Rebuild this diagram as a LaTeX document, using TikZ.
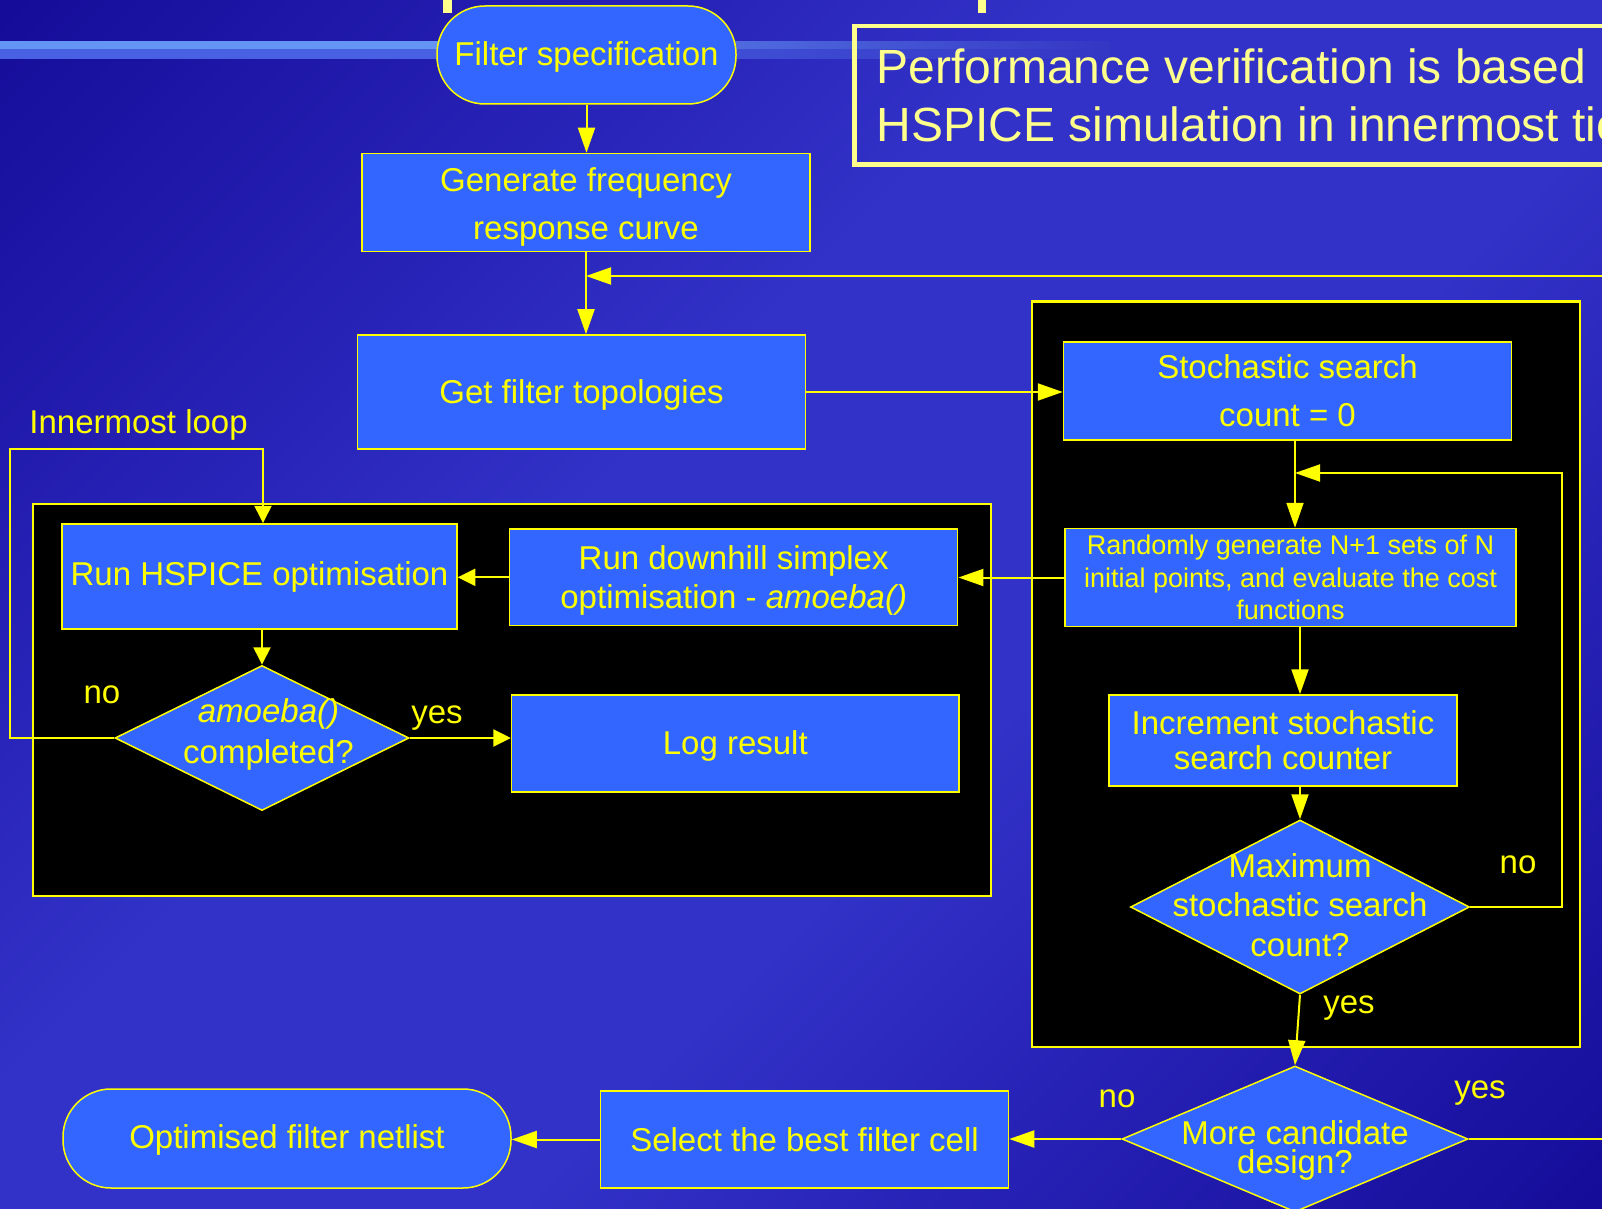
\documentclass[tikz,border=0pt]{standalone}
\usepackage{fontspec}
\setmainfont{Liberation Sans}
\usetikzlibrary{shapes.geometric,arrows.meta}
\definecolor{bgdark}{RGB}{20,12,152}
\definecolor{bgdk2}{RGB}{38,32,180}
\definecolor{bgmid}{RGB}{50,50,200}
\definecolor{nodeblue}{RGB}{51,102,255}
\definecolor{ylw}{RGB}{255,255,0}
\definecolor{ltylw}{RGB}{255,255,140}
\definecolor{barA}{RGB}{100,148,244}
\definecolor{barB}{RGB}{72,96,226}
\definecolor{barEnd}{RGB}{52,54,196}
\pgfdeclarehorizontalshading{bgshade}{100bp}{color(0bp)=(bgdark); color(14bp)=(bgdark); color(30bp)=(bgdk2); color(42bp)=(bgmid); color(58bp)=(bgmid); color(70bp)=(bgdk2); color(86bp)=(bgdark); color(100bp)=(bgdark)}
\pgfdeclarehorizontalshading{barup}{100bp}{color(0bp)=(barA); color(45bp)=(barA); color(75bp)=(barEnd); color(100bp)=(barEnd)}
\pgfdeclarehorizontalshading{barlow}{100bp}{color(0bp)=(barB); color(45bp)=(barB); color(75bp)=(barEnd); color(100bp)=(barEnd)}
\tikzset{
  box/.style={draw=ylw, fill=nodeblue, line width=0.75pt, text=ylw, inner sep=0pt, align=center, font=\fontsize{16.5pt}{19.8pt}\selectfont},
  dia/.style={diamond, draw=ylw, fill=nodeblue, line width=0.75pt, inner sep=0pt},
  dtext/.style={text=ylw, inner sep=0pt, align=center},
  lbl/.style={text=ylw, inner sep=0pt, anchor=base, font=\fontsize{16.5pt}{19.8pt}\selectfont},
  conn/.style={draw=ylw, line width=1pt},
  arr/.style={conn, -{Triangle[length=12.5pt,width=8.5pt]}},
  arrs/.style={conn, -{Triangle[length=8.75pt,width=8.5pt]}},
  group/.style={draw=ylw, line width=1.25pt, fill=black}
}
\begin{document}
\begin{tikzpicture}[x=0.5pt,y=-0.5pt]
\useasboundingbox (0,0) rectangle (1602,1209);
\clip (0,0) rectangle (1602,1209);
% background
\shade[shading=bgshade, shading angle=-45] (0,0) rectangle (1602,1209);
% decorative bar and title remnants
\shade[shading=barup] (0,42) rectangle (1110,50);
\shade[shading=barlow] (0,50) rectangle (1110,59);
\fill[ltylw] (443,0) rectangle (452,13);
\fill[ltylw] (978,0) rectangle (986,13);
% note box
\draw[ltylw, line width=2.3pt] (854.5,26) rectangle (1660,164.4);
\node[anchor=west, inner sep=0pt, align=left, text=ltylw, font=\fontsize{24pt}{28.85pt}\selectfont] (perftext) at (876,95.3) {Performance verification is based\\HSPICE simulation in innermost tier};
% group boxes
\draw[group] (33,504) rectangle (991,896);
\draw[group] (1032,301.7) rectangle (1580,1047);
% nodes
\node[box, rounded corners=24pt, minimum width=149.5pt, minimum height=49pt] (spec) at (586.5,55) {\rule{0pt}{14pt}Filter specification};
\node[box, minimum width=224pt, minimum height=49pt, font=\fontsize{16.5pt}{24pt}\selectfont] (gen) at (586,202.5) {\rule{0pt}{16pt}Generate frequency\\response curve};
\node[box, minimum width=224pt, minimum height=57pt] (topo) at (581.5,392) {\rule{0pt}{15pt}Get filter topologies};
\node[box, minimum width=224pt, minimum height=49pt, font=\fontsize{16.5pt}{24pt}\selectfont] (stoch) at (1287.5,391) {Stochastic search\\count = 0};
\node[box, minimum width=225.5pt, minimum height=49pt, font=\fontsize{13.5pt}{16.25pt}\selectfont] (rand) at (1290.5,577.5) {Randomly generate N+1 sets of N\\initial points, and evaluate the cost\\functions};
\node[box, minimum width=174pt, minimum height=45.5pt, font=\fontsize{16.5pt}{17.5pt}\selectfont] (incr) at (1283,740.5) {Increment stochastic\\search counter};
\node[dia, minimum width=169.5pt, minimum height=87pt] (maxd) at (1300,907) {};
\node[dtext, font=\fontsize{16.5pt}{19.75pt}\selectfont] (maxdt) at (1300,905) {Maximum\\stochastic search\\count?};
\node[dia, minimum width=173pt, minimum height=73pt] (mored) at (1295,1139) {};
\node[dtext, font=\fontsize{16.5pt}{14.5pt}\selectfont] (moredt) at (1295,1150.7) {More candidate\\design?};
\node[box, minimum width=204pt, minimum height=48.5pt] (sel) at (804.5,1139.5) {Select the best filter cell};
\node[box, rounded corners=24pt, minimum width=224pt, minimum height=49.5pt] (opt) at (287,1138.5) {\rule{0pt}{13pt}Optimised filter netlist};
\node[box, minimum width=197.5pt, minimum height=52.5pt] (hsp) at (259.5,576.5) {Run HSPICE optimisation};
\node[box, minimum width=224pt, minimum height=48.25pt, font=\fontsize{16.5pt}{19.5pt}\selectfont] (down) at (733.7,577.3) {\rule{0pt}{15pt}Run downhill simplex\\optimisation - \textit{amoeba()}};
\node[dia, minimum width=147pt, minimum height=72.5pt] (amd) at (262,738) {};
\node[dtext, font=\fontsize{16.5pt}{20.15pt}\selectfont] (amdt) at (268.5,734.4) {\textit{amoeba()}\\completed?};
\node[box, minimum width=223.75pt, minimum height=48.5pt] (log) at (735.3,743.5) {\rule{0pt}{14pt}Log result};
% labels
\node[lbl, anchor=base west] (innerlbl) at (29,433) {Innermost loop};
\node[lbl] (no1) at (102,703) {no};
\node[lbl] (yes1) at (437,723) {yes};
\node[lbl] (no2) at (1518,873) {no};
\node[lbl] (yes2) at (1349,1013) {yes};
\node[lbl] (no3) at (1117,1107) {no};
\node[lbl] (yes3) at (1480,1098) {yes};
% helper coordinates
\coordinate (rin) at (1660,276);
\coordinate (rout) at (1660,1139);
\coordinate (lp) at (1562,473);
\coordinate (il) at (10,449);
\coordinate (sline) at ([xshift=3.75pt]stoch.south);
\coordinate (rline) at ([xshift=4.75pt]rand.south);
\coordinate (hline) at ([xshift=1.75pt]hsp.north);
% connectors
\draw[arr] (spec.south) -- (spec.south |- gen.north);
\draw[arr] (gen.south) -- (gen.south |- topo.north);
\draw[arr] (rin) -- (gen.south |- rin);
\draw[arr] (topo.east) -- (topo.east -| stoch.west);
\draw[arr] (sline) -- (sline |- rand.north);
\draw[arr] (rline) -- (rline |- incr.north);
\draw[arr] (incr.south -| maxd.north) -- (maxd.north);
\draw[arr] (maxd.east) -- (maxd.east -| lp) -- (lp) -- (sline |- lp);
\draw[arr] (maxd.south) -- (mored.north);
\draw[arr] (mored.west) -- (mored.west -| sel.east);
\draw[arr] (sel.west) -- (sel.west -| opt.east);
\draw[conn] (mored.east) -- (rout);
\draw[arr] (rand.west) -- (rand.west -| down.east);
\draw[arrs] (down.west) -- (down.west -| hsp.east);
\draw[arrs] (hsp.south -| amd.north) -- (amd.north);
\draw[arrs] (amd.east) -- (amd.east -| log.west);
\draw[arrs] (amd.west) -- (amd.west -| il) -- (il) -- (hline |- il) -- (hline);
\end{tikzpicture}
\end{document}
